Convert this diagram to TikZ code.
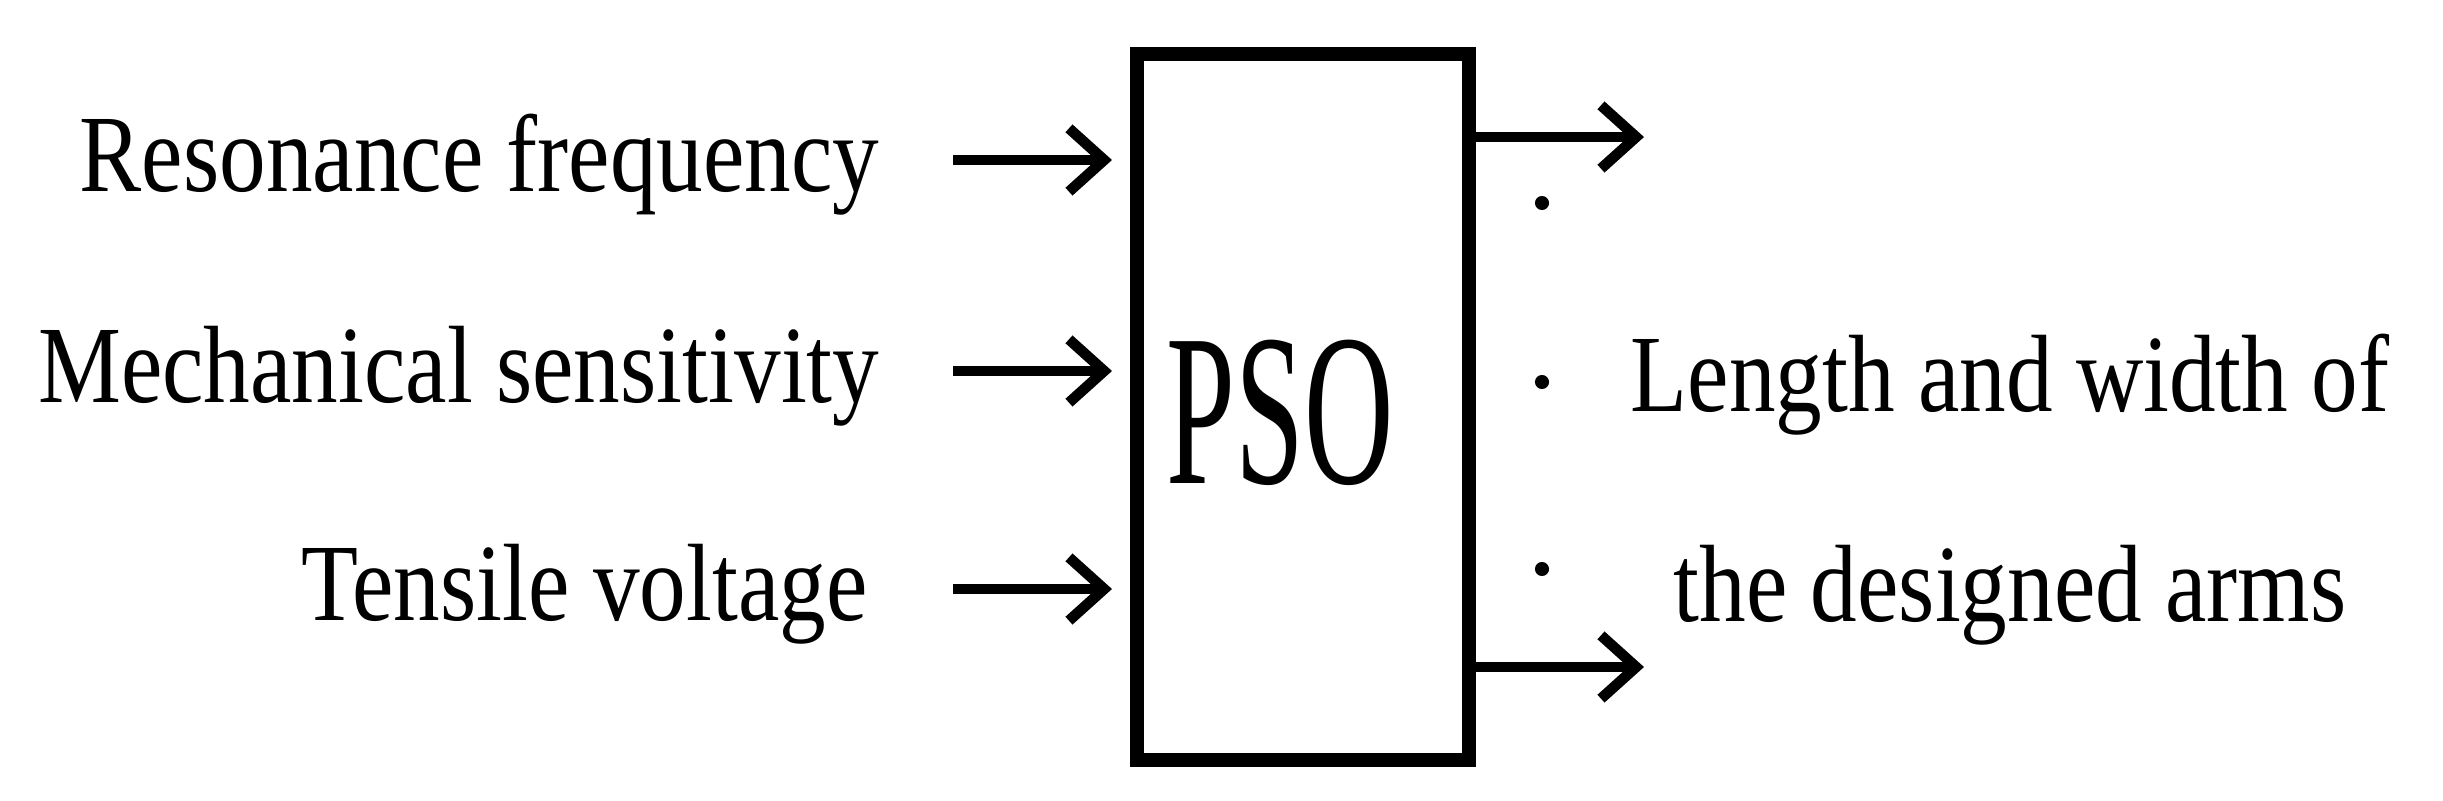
\documentclass[tikz,border=0pt]{standalone}
\usepackage{fontspec}
\setmainfont{Liberation Serif}
\usetikzlibrary{arrows.meta}
\begin{document}
\begin{tikzpicture}[x=0.01cm,y=-0.01cm,
  lbl/.style={font=\fontsize{26.5}{30}\selectfont,inner sep=0pt,yscale=1.18},
  arr/.style={line width=3pt,-{Straight Barb[length=10pt,width=18pt,line width=3pt]}},
  dotm/.style={circle,fill=black,inner sep=0pt,minimum size=4pt}]
\useasboundingbox (0,0) rectangle (2443,800);
\node[draw,line width=4pt,inner sep=0pt,minimum width=3.32cm,minimum height=7.05cm] (pso) at (1303,407) {};
\node[font=\fontsize{44}{50}\selectfont,xscale=0.8,yscale=1.4] (t) at (1280,413) {PSO};
\node[lbl,anchor=east] (r) at (880,165) {Resonance frequency};
\node[lbl,anchor=east] (m) at (880,376) {Mechanical sensitivity};
\node[lbl,anchor=east] (v) at (868,594) {Tensile voltage};
\coordinate (r0) at (953,160); \coordinate (r1) at (1112,160);
\coordinate (m0) at (953,371); \coordinate (m1) at (1112,371);
\coordinate (v0) at (953,589); \coordinate (v1) at (1112,589);
\draw[arr] (r0) -- (r1);
\draw[arr] (m0) -- (m1);
\draw[arr] (v0) -- (v1);
\coordinate (o1) at (1469,137); \coordinate (o1e) at (1644,137);
\coordinate (o2) at (1469,667); \coordinate (o2e) at (1644,667);
\draw[arr] (o1) -- (o1e);
\draw[arr] (o2) -- (o2e);
\node[dotm] (d1) at (1542,203) {};
\node[dotm] (d2) at (1542,382) {};
\node[dotm] (d3) at (1542,569) {};
\node[lbl] (l1) at (2010,385) {Length and width of};
\node[lbl] (l2) at (2010,595) {the designed arms};
\end{tikzpicture}
\end{document}
